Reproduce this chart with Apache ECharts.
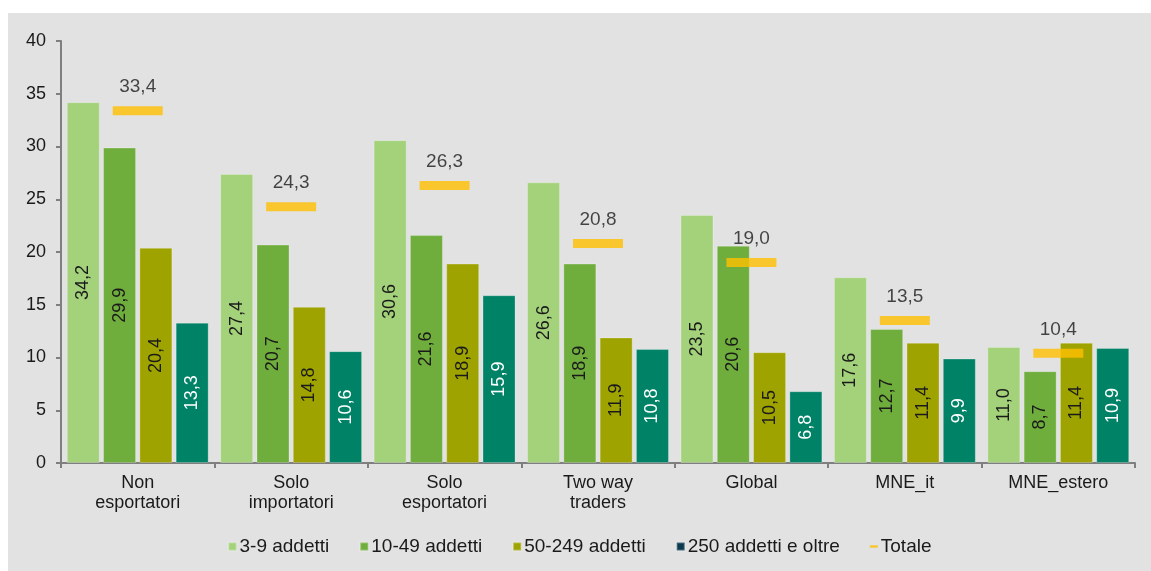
<!DOCTYPE html>
<html>
<head>
<meta charset="utf-8">
<script src="https://cdn.jsdelivr.net/npm/echarts@6/dist/echarts.min.js"></script>
<style>
  html, body { margin: 0; padding: 0; background: #ffffff; }
  #chart {
    position: absolute; left: 8px; top: 13px;
    width: 1143px; height: 558px;
    background: #e2e2e2;
  }
</style>
</head>
<body>
<div id="chart"></div>
<script>
// Categories and values (share of firms, %)
const categories = ['Non\nesportatori', 'Solo\nimportatori', 'Solo\nesportatori', 'Two way\ntraders', 'Global', 'MNE_it', 'MNE_estero'];
const addetti3_9 = [34.2, 27.4, 30.6, 26.6, 23.5, 17.6, 11.0];
const addetti10_49 = [29.9, 20.7, 21.6, 18.9, 20.6, 12.7, 8.7];
const addetti50_249 = [20.4, 14.8, 18.9, 11.9, 10.5, 11.4, 11.4];
const addetti250 = [13.3, 10.6, 15.9, 10.8, 6.8, 9.9, 10.9];
const totale = [33.4, 24.3, 26.3, 20.8, 19.0, 13.5, 10.4];
const yTicks = { min: 0, max: 40, interval: 5 };

const fmt = v => v.toFixed(1).replace('.', ',');
const font = 'Liberation Sans, Arial, sans-serif';
const axisGray = '#7f7f7f';

function barSeries(name, data, color, labelColor) {
  return {
    name: name,
    type: 'bar',
    data: data,
    barWidth: 33,
    barGap: '10%',
    itemStyle: { color: color, borderColor: 'rgba(255,255,255,0.25)', borderWidth: 1 },
    label: {
      show: true,
      position: 'inside',
      rotate: 90,
      color: labelColor,
      fontFamily: font,
      fontSize: 18,
      formatter: p => fmt(p.value)
    }
  };
}

const chart = echarts.init(document.getElementById('chart'));
chart.setOption({
  animation: false,
  backgroundColor: '#e2e2e2',
  grid: { left: 53, right: 16, top: 28, bottom: 108 },
  xAxis: {
    type: 'category',
    data: categories,
    axisLine: { lineStyle: { color: axisGray, width: 2 } },
    axisTick: { show: true, length: 5, lineStyle: { color: axisGray, width: 2 } },
    axisLabel: { color: '#1a1a1a', fontFamily: font, fontSize: 18, lineHeight: 20, margin: 10 }
  },
  yAxis: {
    type: 'value',
    min: yTicks.min, max: yTicks.max, interval: yTicks.interval,
    splitLine: { show: false },
    axisLine: { show: true, lineStyle: { color: axisGray, width: 2 } },
    axisTick: { show: true, length: 5, lineStyle: { color: axisGray, width: 2 } },
    axisLabel: { color: '#1a1a1a', fontFamily: font, fontSize: 18, margin: 15 }
  },
  legend: {
    bottom: 10,
    left: 'center',
    itemWidth: 8,
    itemHeight: 8,
    itemGap: 30,
    textStyle: { color: '#1a1a1a', fontFamily: font, fontSize: 19, padding: [0, 0, 0, -2] },
    data: [
      { name: '3-9 addetti', icon: 'rect' },
      { name: '10-49 addetti', icon: 'rect' },
      { name: '50-249 addetti', icon: 'rect' },
      { name: '250 addetti e oltre', icon: 'rect', itemStyle: { color: '#0b3a4e' } },
      { name: 'Totale', icon: 'path://M0,0H10V3H0Z' }
    ]
  },
  series: [
    barSeries('3-9 addetti', addetti3_9, '#a3d27b', '#1a1a1a'),
    barSeries('10-49 addetti', addetti10_49, '#6fad3c', '#1a1a1a'),
    barSeries('50-249 addetti', addetti50_249, '#9ea300', '#1a1a1a'),
    barSeries('250 addetti e oltre', addetti250, '#008267', '#ffffff'),
    {
      name: 'Totale',
      type: 'scatter',
      data: totale,
      symbol: 'rect',
      symbolSize: [50, 9],
      itemStyle: { color: '#ffc000' },
      z: 5,
      label: {
        show: true,
        position: 'top',
        distance: 10,
        color: '#1a1a1a',
        fontFamily: font,
        fontSize: 19,
        formatter: p => fmt(p.value)
      }
    }
  ]
});
</script>
</body>
</html>
